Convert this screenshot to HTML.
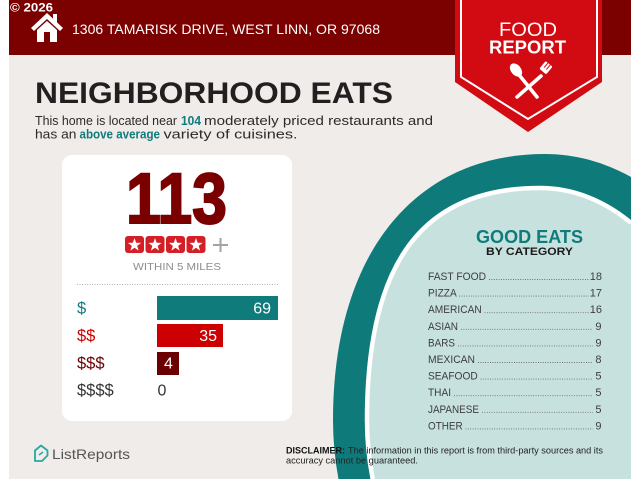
<!DOCTYPE html>
<html>
<head>
<meta charset="utf-8">
<style>
html,body{margin:0;padding:0;background:#fff;width:640px;height:480px;overflow:hidden;}
svg{display:block;}
text{font-family:"Liberation Sans",Arial,sans-serif;}
</style>
</head>
<body>
<svg width="640" height="480" viewBox="0 0 640 480" xmlns="http://www.w3.org/2000/svg">
<defs>
<clipPath id="cp"><rect x="9" y="0" width="622" height="479"/></clipPath>
</defs>
<rect x="0" y="0" width="640" height="480" fill="#ffffff"/>
<g clip-path="url(#cp)">
<rect x="9" y="0" width="622" height="479" fill="#f0ece9"/>
<!-- outer teal -->
<path d="M631 479 L338.5 479 Q333 450 333 420 C333 255.1 413.6 154 545 154 C575.3 154 604.2 162.1 631 177 Z" fill="#0f7a7a"/>
<!-- inner light fill -->
<path d="M631 479 L372.7 479 Q367 450 367 420 C367 262.2 422.4 188 540 188 C573.3 188 604.5 200.8 631 222.9 Z" fill="#c7e1df"/>
<!-- white ring -->
<path d="M372.7 479 Q367 450 367 420 C367 262.2 422.4 188 540 188 C573.3 188 604.5 200.8 631 222.9" fill="none" stroke="#ffffff" stroke-width="4.5"/>
<!-- header -->
<rect x="9" y="0" width="622" height="55" fill="#7b0000"/>
</g>

<!-- copyright -->
<text x="10" y="11.5" font-size="12" font-weight="bold" fill="#ffffff" textLength="43" lengthAdjust="spacingAndGlyphs">© 2026</text>

<!-- house icon -->
<polygon points="31,28 47,13 63,28 60,31 47,19 34,31" fill="#ffffff"/>
<rect x="53" y="14" width="4" height="9" fill="#ffffff"/>
<polygon points="37,30 47,21 57,30 57,42 37,42" fill="#ffffff"/>
<rect x="44" y="32" width="6" height="10" fill="#7b0000"/>

<!-- address -->
<text x="72" y="34" font-size="14" fill="#ffffff" textLength="308" lengthAdjust="spacingAndGlyphs">1306 TAMARISK DRIVE, WEST LINN, OR 97068</text>

<!-- food report banner -->
<polygon points="455,0 602,0 602,82 528,132 455,82" fill="#d20a11"/>
<polyline points="461,0 461,77 528,119 597,77 597,0" fill="none" stroke="#ffffff" stroke-width="2"/>
<text x="528" y="36" font-size="19.5" fill="#ffffff" text-anchor="middle" textLength="58" lengthAdjust="spacingAndGlyphs">FOOD</text>
<text x="527.5" y="53.5" font-size="18" font-weight="bold" fill="#ffffff" text-anchor="middle" textLength="77" lengthAdjust="spacingAndGlyphs">REPORT</text>
<!-- spoon -->
<ellipse cx="516" cy="70" rx="5" ry="7.5" transform="rotate(-40 516 70)" fill="#ffffff"/>
<line x1="520" y1="76" x2="537" y2="97" stroke="#ffffff" stroke-width="3.6" stroke-linecap="round"/>
<!-- fork -->
<line x1="541" y1="76" x2="517" y2="97" stroke="#ffffff" stroke-width="3.6" stroke-linecap="round"/>
<g transform="translate(544 70) rotate(40)">
<rect x="-4.5" y="-8" width="9" height="10" rx="1.5" fill="#ffffff"/>
<line x1="-1.5" y1="-8.5" x2="-1.5" y2="-2" stroke="#d20a11" stroke-width="1"/>
<line x1="1.5" y1="-8.5" x2="1.5" y2="-2" stroke="#d20a11" stroke-width="1"/>
</g>

<!-- title -->
<text x="35" y="103" font-size="30" font-weight="bold" fill="#231f20" textLength="358" lengthAdjust="spacingAndGlyphs">NEIGHBORHOOD EATS</text>
<text x="35" y="125" font-size="13" fill="#2b2b2b" textLength="142" lengthAdjust="spacingAndGlyphs">This home is located near</text>
<text x="181" y="125" font-size="13" font-weight="bold" fill="#0f7b7b" textLength="20" lengthAdjust="spacingAndGlyphs">104</text>
<text x="204" y="125" font-size="13" fill="#2b2b2b" textLength="229" lengthAdjust="spacingAndGlyphs">moderately priced restaurants and</text>
<text x="35" y="138.5" font-size="13" fill="#2b2b2b" textLength="41.5" lengthAdjust="spacingAndGlyphs">has an</text>
<text x="79.5" y="138.5" font-size="13" font-weight="bold" fill="#0f7b7b" textLength="80.5" lengthAdjust="spacingAndGlyphs">above average</text>
<text x="163.5" y="138.5" font-size="13" fill="#2b2b2b" textLength="134" lengthAdjust="spacingAndGlyphs">variety of cuisines.</text>

<!-- card -->
<rect x="62" y="155" width="230" height="266" rx="10" fill="#ffffff"/>
<text x="126" y="223" font-size="71" font-weight="bold" fill="#7a0000" stroke="#7a0000" stroke-width="2" textLength="101" lengthAdjust="spacingAndGlyphs">113</text>
<!-- stars -->
<g fill="#d51f26">
<rect x="125" y="236" width="19" height="17" rx="3"/>
<rect x="145.5" y="236" width="19" height="17" rx="3"/>
<rect x="166" y="236" width="19" height="17" rx="3"/>
<rect x="186.5" y="236" width="19" height="17" rx="3"/>
</g>
<g fill="#ffffff">
<polygon transform="translate(134.5 245)" points="0,-7 1.646,-2.265 6.657,-2.163 2.663,0.865 4.115,5.663 0,2.8 -4.115,5.663 -2.663,0.865 -6.657,-2.163 -1.646,-2.265"/>
<polygon transform="translate(155 245)" points="0,-7 1.646,-2.265 6.657,-2.163 2.663,0.865 4.115,5.663 0,2.8 -4.115,5.663 -2.663,0.865 -6.657,-2.163 -1.646,-2.265"/>
<polygon transform="translate(175.5 245)" points="0,-7 1.646,-2.265 6.657,-2.163 2.663,0.865 4.115,5.663 0,2.8 -4.115,5.663 -2.663,0.865 -6.657,-2.163 -1.646,-2.265"/>
<polygon transform="translate(196 245)" points="0,-7 1.646,-2.265 6.657,-2.163 2.663,0.865 4.115,5.663 0,2.8 -4.115,5.663 -2.663,0.865 -6.657,-2.163 -1.646,-2.265"/>
</g>
<line x1="213" y1="245" x2="228" y2="245" stroke="#a3a3a3" stroke-width="2"/>
<line x1="220.5" y1="238" x2="220.5" y2="252" stroke="#a3a3a3" stroke-width="2"/>
<text x="133" y="270" font-size="10.5" fill="#8c8c8c" textLength="88" lengthAdjust="spacingAndGlyphs">WITHIN 5 MILES</text>
<line x1="77" y1="284.5" x2="278" y2="284.5" stroke="#b0b0b0" stroke-width="1" stroke-dasharray="1 1.5"/>

<!-- price bars -->
<rect x="157" y="296" width="121" height="24" fill="#0f7b7b"/>
<rect x="157" y="324" width="66" height="23" fill="#cc0000"/>
<rect x="157" y="352" width="22" height="23" fill="#6b0000"/>
<text x="77" y="313.5" font-size="16.5" fill="#0f7b7b">$</text>
<text x="77" y="341" font-size="16.5" fill="#cc0000">$$</text>
<text x="77" y="368.5" font-size="16.5" fill="#6b0000">$$$</text>
<text x="77" y="395.5" font-size="16.5" fill="#333333">$$$$</text>
<text x="271" y="313.5" font-size="16" fill="#ffffff" text-anchor="end">69</text>
<text x="217" y="341" font-size="16" fill="#ffffff" text-anchor="end">35</text>
<text x="168.5" y="368.5" font-size="16" fill="#ffffff" text-anchor="middle">4</text>
<text x="157.5" y="395.5" font-size="16" fill="#333333">0</text>

<!-- good eats -->
<text x="476" y="243" font-size="18" font-weight="bold" fill="#0f7b7b" textLength="107" lengthAdjust="spacingAndGlyphs">GOOD EATS</text>
<text x="486" y="255" font-size="11" font-weight="bold" fill="#1a1a1a" textLength="87" lengthAdjust="spacingAndGlyphs">BY CATEGORY</text>

<g font-size="11" fill="#3d3d3d">
<text x="428" y="280" textLength="58" lengthAdjust="spacingAndGlyphs">FAST FOOD</text>
<text x="428" y="296.6" textLength="28.7" lengthAdjust="spacingAndGlyphs">PIZZA</text>
<text x="428" y="313.2" textLength="53.7" lengthAdjust="spacingAndGlyphs">AMERICAN</text>
<text x="428" y="329.8" textLength="30" lengthAdjust="spacingAndGlyphs">ASIAN</text>
<text x="428" y="346.4" textLength="27" lengthAdjust="spacingAndGlyphs">BARS</text>
<text x="428" y="363" textLength="47" lengthAdjust="spacingAndGlyphs">MEXICAN</text>
<text x="428" y="379.6" textLength="49.7" lengthAdjust="spacingAndGlyphs">SEAFOOD</text>
<text x="428" y="396.2" textLength="23" lengthAdjust="spacingAndGlyphs">THAI</text>
<text x="428" y="412.8" textLength="51" lengthAdjust="spacingAndGlyphs">JAPANESE</text>
<text x="428" y="429.4" textLength="34.7" lengthAdjust="spacingAndGlyphs">OTHER</text>
</g>
<g font-size="11" fill="#3d3d3d" text-anchor="end">
<text x="602" y="280">18</text>
<text x="602" y="296.6">17</text>
<text x="602" y="313.2">16</text>
<text x="601.5" y="329.8">9</text>
<text x="601.5" y="346.4">9</text>
<text x="601.5" y="363">8</text>
<text x="601.5" y="379.6">5</text>
<text x="601.5" y="396.2">5</text>
<text x="601.5" y="412.8">5</text>
<text x="601.5" y="429.4">9</text>
</g>
<g stroke="#666666" stroke-width="0.9" stroke-dasharray="0.9 1.5">
<line x1="489" y1="279.5" x2="589" y2="279.5"/>
<line x1="459" y1="296.1" x2="589" y2="296.1"/>
<line x1="484.5" y1="312.7" x2="589" y2="312.7"/>
<line x1="461" y1="329.3" x2="593" y2="329.3"/>
<line x1="458" y1="345.9" x2="593" y2="345.9"/>
<line x1="478" y1="362.5" x2="593" y2="362.5"/>
<line x1="480.5" y1="379.1" x2="593" y2="379.1"/>
<line x1="454" y1="395.7" x2="593" y2="395.7"/>
<line x1="482" y1="412.3" x2="593" y2="412.3"/>
<line x1="465.5" y1="428.9" x2="593" y2="428.9"/>
</g>

<!-- footer -->
<path d="M35 450.5 L41 445.5 L47.5 450.5 L47.5 455.5 L42 461 L35 461 Z" fill="none" stroke="#2aa79f" stroke-width="1.8" stroke-linejoin="round"/>
<path d="M39 455 L43 452" fill="none" stroke="#2aa79f" stroke-width="1.5"/>
<text x="52" y="459" font-size="14" fill="#555555" textLength="78" lengthAdjust="spacingAndGlyphs">ListReports</text>

<text x="286" y="453.5" font-size="9" font-weight="bold" fill="#111111" textLength="59" lengthAdjust="spacingAndGlyphs">DISCLAIMER:</text>
<text x="348" y="453.5" font-size="9" fill="#222222" textLength="255" lengthAdjust="spacingAndGlyphs">The information in this report is from third-party sources and its</text>
<text x="286" y="463.5" font-size="9" fill="#222222" textLength="132" lengthAdjust="spacingAndGlyphs">accuracy cannot be guaranteed.</text>
</svg>
</body>
</html>
